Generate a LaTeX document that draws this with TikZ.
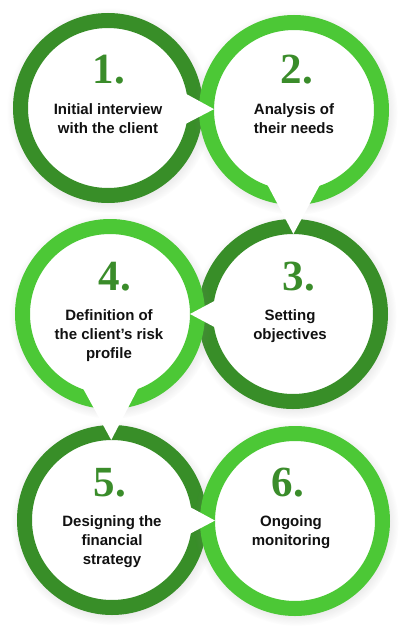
\documentclass[tikz,border=0pt]{standalone}
\usepackage{fontspec}
\setmainfont{Liberation Sans}
\newfontfamily\numfont{Liberation Serif}
\usetikzlibrary{calc,shadows}
\definecolor{DarkGreen}{RGB}{56,142,40}
\definecolor{LightGreen}{RGB}{76,200,54}
\definecolor{NumGreen}{RGB}{58,140,42}
\definecolor{Ink}{RGB}{17,17,17}
\tikzset{
  stage/.style={circle,fill=white,line width=15pt,minimum size=175pt,inner sep=0pt,
    circular drop shadow={shadow xshift=1pt,shadow yshift=-2pt,shadow scale=1.17,opacity=.22}},
  stageDark/.style={stage,draw=DarkGreen},
  stageLight/.style={stage,draw=LightGreen},
  num/.style={font=\numfont\bfseries\fontsize{43}{43}\selectfont,text=NumGreen,inner sep=0pt,anchor=base},
  txt/.style={font=\bfseries\fontsize{15}{19}\selectfont,text=Ink,align=center,inner sep=0pt,anchor=north},
  pointer/.style={fill=white,draw=none}
}
\begin{document}
\begin{tikzpicture}[x=1pt,y=-1pt]
  \path[use as bounding box,fill=white] (0,0) rectangle (408,635);
  % rings
  \node[stageDark] (c1) at (108,108) {};
  \node[stageLight] (c2) at (294,110) {};
  \node[stageDark] (c3) at (293,314) {};
  \node[stageLight] (c4) at (110,314) {};
  \node[stageDark] (c5) at (112,520) {};
  \node[stageLight] (c6) at (295,521) {};
  % pointers from one step to the next
  \foreach \a/\b in {c1/c2,c2/c3,c3/c4,c4/c5,c5/c6}{
    \coordinate (tip-\a) at ($(\b)!80pt!(\a)$);
    \coordinate (base-\a) at ($(tip-\a)!60pt!(\a)$);
    \fill[pointer] (tip-\a) -- ($(base-\a)!32pt!90:(tip-\a)$) -- ($(base-\a)!32pt!-90:(tip-\a)$) -- cycle;
  }
  % numbers and labels
  \node[num] (n1) at ($(c1)+(1,-25)$) {1.};
  \node[txt] (t1) at ($(c1)+(0,-5)$) {Initial interview\\with the client};
  \node[num] (n2) at ($(c2)+(3,-27)$) {2.};
  \node[txt] (t2) at ($(c2)+(0,-7)$) {Analysis of\\their needs};
  \node[num] (n3) at ($(c3)+(6,-24)$) {3.};
  \node[txt] (t3) at ($(c3)+(-3,-5)$) {Setting\\objectives};
  \node[num] (n4) at ($(c4)+(5,-24)$) {4.};
  \node[txt] (t4) at ($(c4)+(-1,-5)$) {Definition of\\the client’s risk\\profile};
  \node[num] (n5) at ($(c5)+(-2,-24)$) {5.};
  \node[txt] (t5) at ($(c5)+(0,-5)$) {Designing the\\financial\\strategy};
  \node[num] (n6) at ($(c6)+(-7,-25)$) {6.};
  \node[txt] (t6) at ($(c6)+(-4,-6)$) {Ongoing\\monitoring};
\end{tikzpicture}
\end{document}
